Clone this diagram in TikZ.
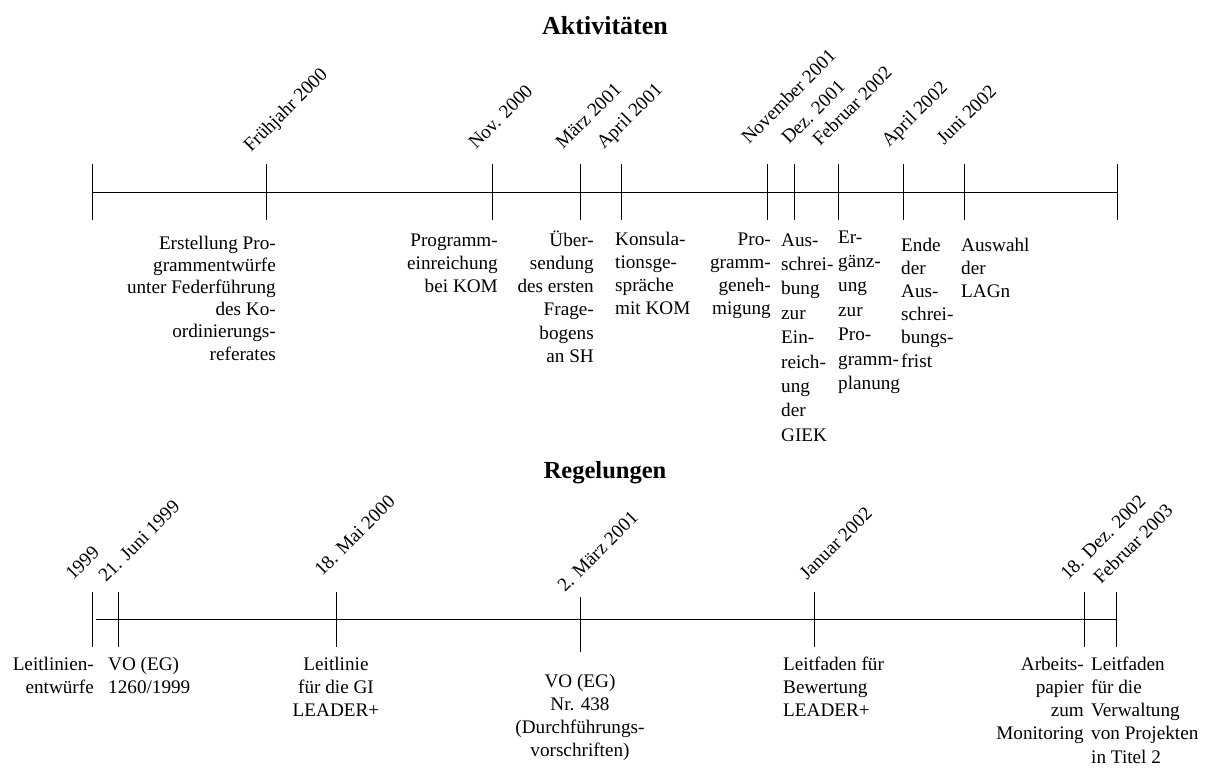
\documentclass[tikz,border=0pt]{standalone}
\usepackage{fontspec}
\setmainfont{Liberation Serif}
% a column of lines whose first baseline is the box baseline
\newcommand{\tcol}[3]{{\fontsize{19.2}{#2}\selectfont\def\arraystretch{1}%
  \begin{tabular}[t]{@{}#1@{}}#3\end{tabular}}}
\begin{document}
\begin{tikzpicture}[x=1pt,y=-1pt,
  axis/.style={line width=1pt},
  tickline/.style={line width=1pt},
  datelab/.style={rotate=45,anchor=base west,inner sep=0pt,font=\fontsize{19.2}{23}\selectfont},
  txt/.style={inner sep=0pt},
  title/.style={anchor=base,inner sep=0pt,font=\bfseries\fontsize{26}{30}\selectfont}]
\useasboundingbox (0,0) rectangle (1211,769);

% ---------- Aktivitäten ----------
\node[title] (tA) at (605,34) {Aktivitäten};
\coordinate (aL) at (92,192);
\coordinate (aR) at (1117,192);
\draw[axis] (aL) -- (aR);
\foreach \n/\x in {a0/92,a1/266,a2/492,a3/580,a4/621,a5/767,a6/794,a7/838,a8/903,a9/964,a10/1117}{
  \coordinate (\n t) at (\x,164);
  \coordinate (\n b) at (\x,220);
  \draw[tickline] (\n t) -- (\n b);
}
\node[datelab] (da1) at (251,153) {Frühjahr 2000};
\node[datelab] (da2) at (476,150) {Nov. 2000};
\node[datelab] (da3) at (563,150) {März 2001};
\node[datelab] (da4) at (604,150) {April 2001};
\node[datelab] (da5) at (749,145) {November 2001};
\node[datelab] (da6) at (789,145) {Dez. 2001};
\node[datelab] (da7) at (820,147) {Februar 2002};
\node[datelab] (da8) at (889,148) {April 2002};
\node[datelab] (da9) at (944,146) {Juni 2002};

\node[txt,anchor=base east] (ea1) at (276,249) {\tcol{r}{22.2}{Erstellung Pro-\\grammentwürfe\\unter Federführung\\des Ko-\\ordinierungs-\\referates}};
\node[txt,anchor=base east] (ea2) at (498,246) {\tcol{r}{23}{Programm-\\einreichung\hspace{5pt}\\bei KOM}};
\node[txt,anchor=base east] (ea3) at (594,246) {\tcol{r}{23.3}{Über-\\sendung\hspace{5pt}\\des ersten\\Frage-\\bogens\hspace{5pt}\\an SH}};
\node[txt,anchor=base west] (ea4) at (615,245) {\tcol{l}{23.3}{Konsula-\\tionsge-\\spräche\\mit KOM}};
\node[txt,anchor=base east] (ea5) at (771,245) {\tcol{r}{23.3}{Pro-\\gramm-\\geneh-\\migung}};
\node[txt,anchor=base west] (ea6) at (781,246) {\tcol{l}{24.4}{Aus-\\schrei-\\bung\\zur\\Ein-\\reich-\\ung\\der\\GIEK}};
\node[txt,anchor=base west] (ea7) at (838,243) {\tcol{l}{24.4}{Er-\\gänz-\\ung\\zur\\Pro-\\gramm-\\planung}};
\node[txt,anchor=base west] (ea8) at (901,251) {\tcol{l}{23.2}{Ende\\der\\Aus-\\schrei-\\bungs-\\frist}};
\node[txt,anchor=base west] (ea9) at (961,251) {\tcol{l}{23.2}{Auswahl\\der\\LAGn}};

% ---------- Regelungen ----------
\node[title,font=\bfseries\fontsize{24.5}{30}\selectfont] (tR) at (605,478) {Regelungen};
\coordinate (rL) at (96,619);
\coordinate (rR) at (1117,619);
\draw[axis] (rL) -- (rR);
\foreach \n/\x/\yt/\yb in {r1/92/592/647,r2/118/592/647,r3/336/592/647,r4/580/597/652,r5/814/592/647,r6/1084/592/647,r7/1116/592/647}{
  \coordinate (\n t) at (\x,\yt);
  \coordinate (\n b) at (\x,\yb);
  \draw[tickline] (\n t) -- (\n b);
}
\node[datelab] (dr1) at (73,581) {1999};
\node[datelab] (dr2) at (106,583) {21. Juni 1999};
\node[datelab] (dr3) at (322,577) {18. Mai 2000};
\node[datelab] (dr4) at (565,593) {2. März 2001};
\node[datelab] (dr5) at (807,581) {Januar 2002};
\node[datelab] (dr6) at (1068,581) {18. Dez. 2002};
\node[datelab] (dr7) at (1101,585) {Februar 2003};

\node[txt,anchor=base east] (er1) at (94,670) {\tcol{r}{23.3}{Leitlinien-\\entwürfe}};
\node[txt,anchor=base west] (er2) at (108,670) {\tcol{l}{23.3}{VO (EG)\\1260/1999}};
\node[txt,anchor=base] (er3) at (336,670) {\tcol{c}{23.3}{Leitlinie\\für die GI\\LEADER+}};
\node[txt,anchor=base] (er4) at (580,687) {\tcol{c}{23.3}{VO (EG)\\Nr. 438\\(Durchführungs-\\vorschriften)}};
\node[txt,anchor=base west] (er5) at (783,670) {\tcol{l}{23.3}{Leitfaden für\\Bewertung\\LEADER+}};
\node[txt,anchor=base east] (er6) at (1084,670) {\tcol{r}{23.3}{Arbeits-\\papier\\zum\\Monitoring}};
\node[txt,anchor=base west] (er7) at (1091,670) {\tcol{l}{23.3}{Leitfaden\\für die\\Verwaltung\\von Projekten\\in Titel 2}};
\end{tikzpicture}
\end{document}
